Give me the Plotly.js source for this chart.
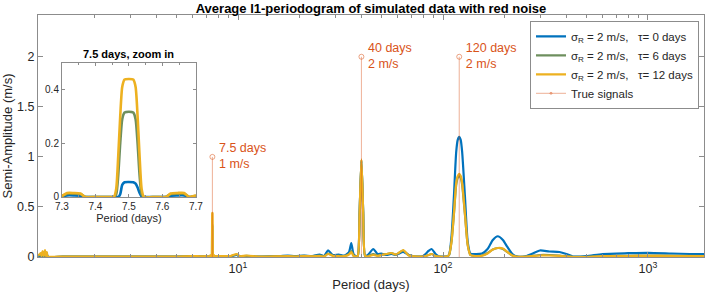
<!DOCTYPE html>
<html><head><meta charset="utf-8">
<script src="https://cdn.plot.ly/plotly-3.0.1.min.js"></script>
<style>html,body{margin:0;padding:0;background:#fff;}#chart{width:707px;height:295px;}</style>
</head><body><div id="chart"></div>
<script>
// Period grid (days) shared by the three averaged periodograms
const periods = [1.06,1.08,1.09,1.10,1.114,1.128,1.144,1.156,1.167,1.18,1.4,1.8,2.5,3.5,5.0,6.0,6.6,7.0,
  7.30,7.315,7.335,7.355,7.37,7.40,7.44,7.455,7.462,7.468,7.474,7.48,7.487,7.5,7.513,7.52,7.526,7.532,7.538,7.545,7.58,7.61,7.625,7.645,7.665,7.68,7.70,
  7.9,8.5,9.2,9.86,10.2,11.0,12.5,14,16,17.5,19,21,23,25,26.3,27.5,29,31,33,34.8,35.7,36.6,37.6,38.4,39.2,40,40.8,41.7,43,45.7,48,50,53,56,59,64,68,74,80,85,88,92,96,100,104,
  107,110,113,116,118,120,122,124,128,132,136,145,155,165,175,185,196,206,218,230,250,270,297,330,370,400,430,500,600,800,1000,1300,1600,1900];
const ampTau0 = [.008,.01,.02,.005,.03,.005,.04,.005,.03,.003,.003,.004,.003,.003,.004,.006,.004,.005,
  .002,.006,.006,.005,0,0,0,0,0,0,.01,.045,.055,.056,.055,.05,.035,.015,.002,0,0,0,.005,.006,.006,0,.002,
  .004,.005,.006,.02,.005,.01,.004,.006,.01,.015,.008,.015,.01,.025,.01,.067,.02,.025,.015,.05,.14,.03,.01,.01,.45,.96,.45,.01,.02,.08,.03,.035,.02,.03,.02,.05,.02,.005,.01,.06,.08,.03,.005,.003,.005,
  .02,.2,.6,1.05,1.17,1.2,1.17,1.05,.6,.15,.035,.03,.035,.08,.17,.207,.17,.1,.03,.005,.005,.03,.065,.055,.05,.03,.005,.008,.03,.038,.042,.035,.03,.028];
const ampTau6 = [.012,.02,.03,.008,.05,.008,.06,.008,.045,.005,.004,.005,.004,.004,.005,.008,.006,.007,
  .004,.012,.012,.011,0,0,0,0,.01,.08,.2,.29,.315,.318,.315,.29,.2,.08,.01,0,0,0,.011,.012,.012,0,.004,
  .006,.007,.008,.025,.006,.012,.005,.005,.008,.01,.006,.012,.008,.015,.008,.035,.015,.012,.01,.03,.06,.02,.006,.01,.45,.97,.45,.01,.01,.03,.015,.02,.03,.04,.025,.065,.02,.005,.005,.02,.03,.01,.003,.002,.004,
  .02,.15,.42,.72,.79,.81,.79,.72,.42,.12,.02,.01,.015,.04,.075,.09,.08,.05,.015,.003,.003,.01,.02,.02,.015,.008,.001,.002,.01,.012,.015,.013,.012,.01];
const ampTau12 = [.015,.03,.04,.01,.06,.01,.07,.01,.05,.005,.005,.004,.005,.004,.005,.01,.006,.008,
  .005,.015,.015,.013,0,0,0,0,.03,.15,.3,.41,.438,.44,.438,.41,.3,.15,.03,0,0,0,.013,.015,.015,0,.005,
  .008,.008,.01,.03,.007,.015,.005,.005,.006,.008,.005,.01,.006,.01,.005,.03,.01,.008,.008,.025,.05,.01,.005,.01,.45,.975,.45,.01,.005,.02,.01,.02,.03,.04,.025,.07,.015,.005,.005,.02,.03,.01,.003,.002,.004,
  .02,.15,.43,.74,.81,.83,.81,.74,.43,.12,.02,.01,.012,.035,.075,.09,.085,.05,.015,.002,.002,.008,.015,.015,.012,.006,0,0,.008,.01,.012,.01,.01,.01];
const seriesNames = ['\u03c3<sub>R</sub> = 2 m/s,\u00a0\u00a0\u00a0\u03c4= 0 days',
                     '\u03c3<sub>R</sub> = 2 m/s,\u00a0\u00a0\u00a0\u03c4= 6 days',
                     '\u03c3<sub>R</sub> = 2 m/s,\u00a0\u00a0\u00a0\u03c4= 12 days'];
const seriesColors = ['#0072BD', '#6E8F5E', '#EDB120'];
// True injected signals
const signalPeriods = [7.5, 40, 120];
const signalAmps = [1, 2, 2];
const signalLabels = ['7.5 days<br>1 m/s', '40 days<br>2 m/s', '120 days<br>2 m/s'];
// Axis ticks
const xTickVals = [10, 100, 1000];
const xTickText = ['10<sup>1</sup>', '10<sup>2</sup>', '10<sup>3</sup>'];
const xMinorVals = [2,3,4,5,6,7,8,9,20,30,40,50,60,70,80,90,200,300,400,500,600,700,800,900];
const yTickVals = [0, 0.5, 1, 1.5, 2];
const insetXTicks = [7.3, 7.4, 7.5, 7.6, 7.7];
const insetXText = ['7.3', '7.4', '7.5', '7.6', '7.7'];
const insetYTicks = [0, 0.2, 0.4];
const insetYText = ['0', '0.2', '0.4'];

const FONT = 'Liberation Sans, Arial, Helvetica, sans-serif';
const TXT = '#262626';
const AX = '#8c8c8c';
const SIG = '#D95319';
const amps = [ampTau0, ampTau6, ampTau12];
const traces = [];
amps.forEach((a, i) => {
  traces.push({x: periods, y: a, type: 'scatter', mode: 'lines', name: seriesNames[i],
    line: {color: seriesColors[i], width: 2.2, shape: 'spline', smoothing: 0.6}, xaxis: 'x', yaxis: 'y'});
});
// stems with open circle at the top
const sx = [], sy = [], ss = [];
signalPeriods.forEach((p, i) => {
  sx.push(p, p, null); sy.push(0, signalAmps[i], null); ss.push(0, 5, 0);
});
traces.push({x: sx, y: sy, type: 'scatter', mode: 'lines+markers', name: 'True signals',
  line: {color: 'rgba(217,83,25,0.45)', width: 1},
  marker: {symbol: 'circle-open', size: ss, color: 'rgba(217,83,25,0.75)', line: {width: 1}},
  cliponaxis: false, xaxis: 'x', yaxis: 'y'});
traces.push({x: signalPeriods, y: signalAmps, text: signalLabels, type: 'scatter', mode: 'markers+text',
  showlegend: false, textposition: 'middle right', textfont: {family: FONT, size: 12.5, color: SIG},
  marker: {size: 9, color: 'rgba(0,0,0,0)'},
  cliponaxis: false, xaxis: 'x', yaxis: 'y'});
amps.forEach((a, i) => {
  traces.push({x: periods, y: a, type: 'scatter', mode: 'lines', showlegend: false,
    line: {color: seriesColors[i], width: 2.6, shape: 'spline', smoothing: 0.6}, xaxis: 'x2', yaxis: 'y2'});
});

const layout = {
  width: 707, height: 295,
  margin: {l: 38, r: 3, t: 15, b: 38},
  paper_bgcolor: '#fff', plot_bgcolor: '#fff',
  font: {family: FONT, color: TXT, size: 12},
  showlegend: true,
  title: {text: '<b>Average l1-periodogram of simulated data with red noise</b>', x: 0.5, xref: 'paper',
    y: 0.973, yref: 'container', yanchor: 'middle', font: {family: FONT, size: 13, color: '#000'}},
  xaxis: {type: 'log', range: [0.0244, 3.2732], tickvals: xTickVals, ticktext: xTickText,
    ticks: 'inside', ticklen: 5, tickcolor: AX, showline: true, linecolor: AX, linewidth: 1, mirror: 'ticks',
    showgrid: false, zeroline: false, tickfont: {size: 12.5, color: TXT}, automargin: false,
    minor: {tickvals: xMinorVals, ticks: 'inside', ticklen: 3, tickcolor: AX},
    title: {text: 'Period (days)', font: {size: 13, color: TXT}, standoff: 4}},
  yaxis: {range: [0, 2.417], tickvals: yTickVals, ticks: 'inside', ticklen: 5, tickcolor: AX,
    showline: true, linecolor: AX, linewidth: 1, mirror: 'ticks', showgrid: false, zeroline: false,
    tickfont: {size: 12.5, color: TXT}, automargin: false,
    title: {text: 'Semi-Amplitude (m/s)', font: {size: 13, color: TXT}, standoff: 6}},
  xaxis2: {domain: [0.036, 0.237], anchor: 'y2', range: [7.3, 7.7], tickvals: insetXTicks,
    ticktext: insetXText,
    ticks: 'inside', ticklen: 3, tickcolor: AX, showline: true, linecolor: AX, mirror: 'ticks',
    showgrid: false, zeroline: false, tickfont: {size: 10, color: TXT},
    minor: {dtick: 0.05, ticks: 'inside', ticklen: 2, tickcolor: AX},
    title: {text: 'Period (days)', font: {size: 11, color: TXT}, standoff: 3}},
  yaxis2: {domain: [0.248, 0.802], anchor: 'x2', range: [0, 0.5], tickvals: insetYTicks,
    ticktext: insetYText,
    ticks: 'inside', ticklen: 3, tickcolor: AX, showline: true, linecolor: AX, mirror: 'ticks',
    showgrid: false, zeroline: false, tickfont: {size: 10, color: TXT}},
  legend: {x: 0.9925, y: 0.976, xanchor: 'right', yanchor: 'top', bgcolor: '#fff', bordercolor: AX,
    borderwidth: 1, font: {family: FONT, size: 11.5, color: TXT}, tracegroupgap: 0, itemwidth: 30},
  annotations: [{text: '<b>7.5 days, zoom in</b>', xref: 'x2 domain', yref: 'y2 domain', x: 0.5, y: 1,
    yanchor: 'bottom', xanchor: 'center', yshift: 1, showarrow: false, font: {family: FONT, size: 11, color: '#000'}}]
};
Plotly.newPlot('chart', traces, layout, {displayModeBar: false, staticPlot: true});
</script></body></html>
